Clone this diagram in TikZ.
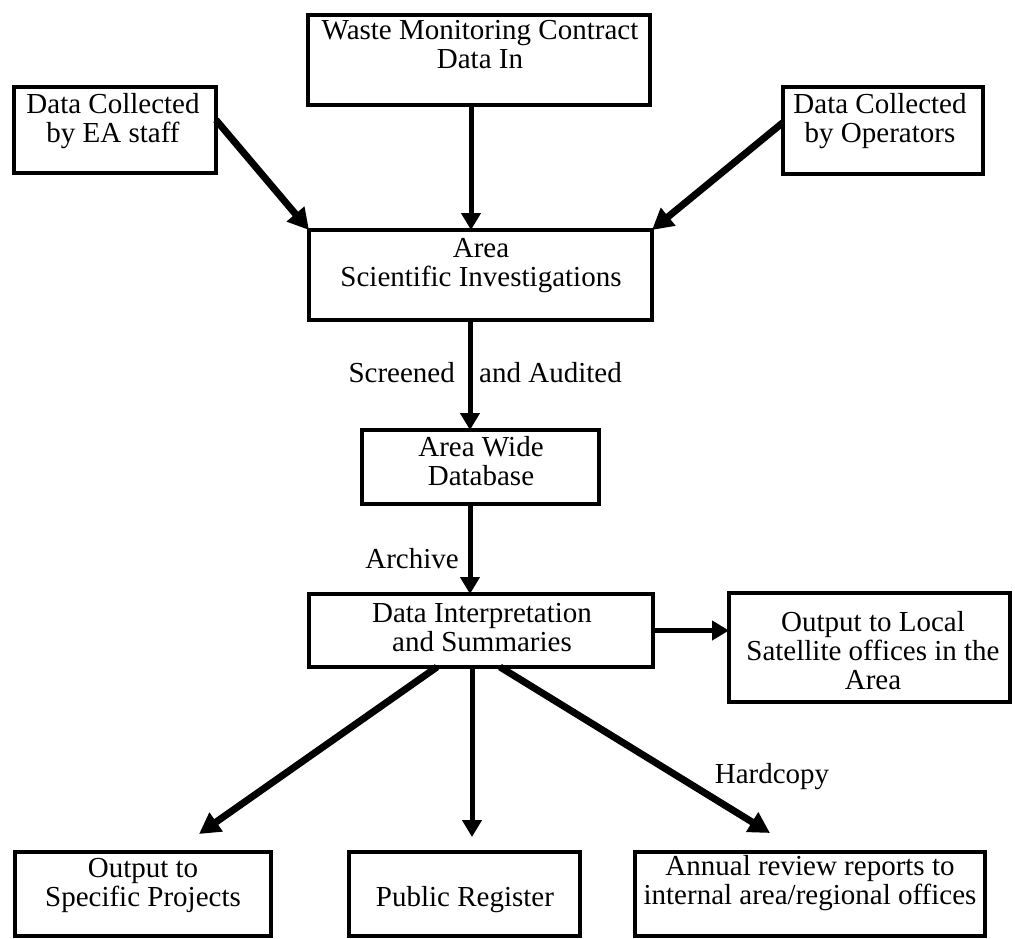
\documentclass[tikz,border=0pt]{standalone}
\usepackage{fontspec}
\setmainfont{Liberation Serif}
\usetikzlibrary{arrows.meta}
\tikzset{
  box/.style={draw, line width=4pt, inner sep=0pt, outer sep=0pt, rectangle},
  txt/.style={font=\fontsize{29pt}{29pt}\selectfont, align=center, inner sep=0pt, anchor=north},
  lbl/.style={font=\fontsize{29pt}{29pt}\selectfont, inner sep=0pt},
  thinarrow/.style={line width=5pt, -{Triangle[length=17pt,width=19pt]}},
  thickarrow/.style={line width=7pt, -{Triangle[length=21pt,width=22pt]}}
}
\begin{document}
\begin{tikzpicture}[x=1pt,y=-1pt]
\useasboundingbox (0,0) rectangle (1015,939);
% boxes
\node[box, minimum width=342pt, minimum height=90pt] (ws) at (479,60) {};
\node[box, minimum width=202pt, minimum height=86pt] (ea) at (115,130) {};
\node[box, minimum width=200pt, minimum height=87pt] (op) at (883,130.5) {};
\node[box, minimum width=343pt, minimum height=90pt] (si) at (480.5,275) {};
\node[box, minimum width=237pt, minimum height=74pt] (awd) at (480.5,467) {};
\node[box, minimum width=344pt, minimum height=73pt] (di) at (481,630.5) {};
\node[box, minimum width=281pt, minimum height=109pt] (ol) at (869.5,647.5) {};
\node[box, minimum width=256pt, minimum height=84pt] (sp) at (143,894) {};
\node[box, minimum width=231pt, minimum height=84pt] (pr) at (464.5,894) {};
\node[box, minimum width=350pt, minimum height=84pt] (an) at (810,894) {};
% texts
\node[txt] (tws) at (480,20) {Waste Monitoring Contract\\Data In};
\node[txt] (tea) at (113,93) {Data Collected\\by EA staff};
\node[txt] (top) at (880,93) {Data Collected\\by Operators};
\node[txt] (tsi) at (481,238) {Area\\Scientific Investigations};
\node[txt] (tawd) at (481,436) {Area Wide\\Database};
\node[txt] (tdi) at (482,603) {Data Interpretation\\and Summaries};
\node[txt] (tol) at (873,611) {Output to Local\\Satellite offices in the\\Area};
\node[txt] (tsp) at (143,858) {Output to\\Specific Projects};
\node[txt] (tpr) at (465,886) {Public Register};
\node[txt] (tan) at (810,855) {Annual review reports to\\internal area/regional offices};
% labels
\node[lbl, anchor=base east] (scr) at (455,382) {Screened};
\node[lbl, anchor=base west] (aud) at (479,382) {and Audited};
\node[lbl, anchor=base east] (arc) at (459,568) {Archive};
\node[lbl, anchor=base] (hc) at (772,783) {Hardcopy};
% helper coordinates
\coordinate (vx) at (471,0);
\coordinate (vx2) at (470,0);
\coordinate (spx) at (437,0);
\coordinate (prx) at (472,0);
\coordinate (anx) at (500,0);
\coordinate (sptip) at (199,834);
\coordinate (prtip) at (472,837);
\coordinate (antip) at (770,833);
% connectors
\draw[thickarrow] ([yshift=10pt]ea.east) -- (si.north west);
\draw[thickarrow] ([yshift=8pt]op.west) -- (si.north east);
\draw[thinarrow] (ws.south -| vx) -- (si.north -| vx);
\draw[thinarrow] (si.south -| vx2) -- (awd.north -| vx2);
\draw[thinarrow] (awd.south -| vx2) -- (di.north -| vx2);
\draw[thinarrow] (di.east) -- (di.east -| ol.west);
\draw[thickarrow] (di.south -| spx) -- (sptip);
\draw[thinarrow] (di.south -| prx) -- (prtip);
\draw[thickarrow] (di.south -| anx) -- (antip);
\end{tikzpicture}
\end{document}
